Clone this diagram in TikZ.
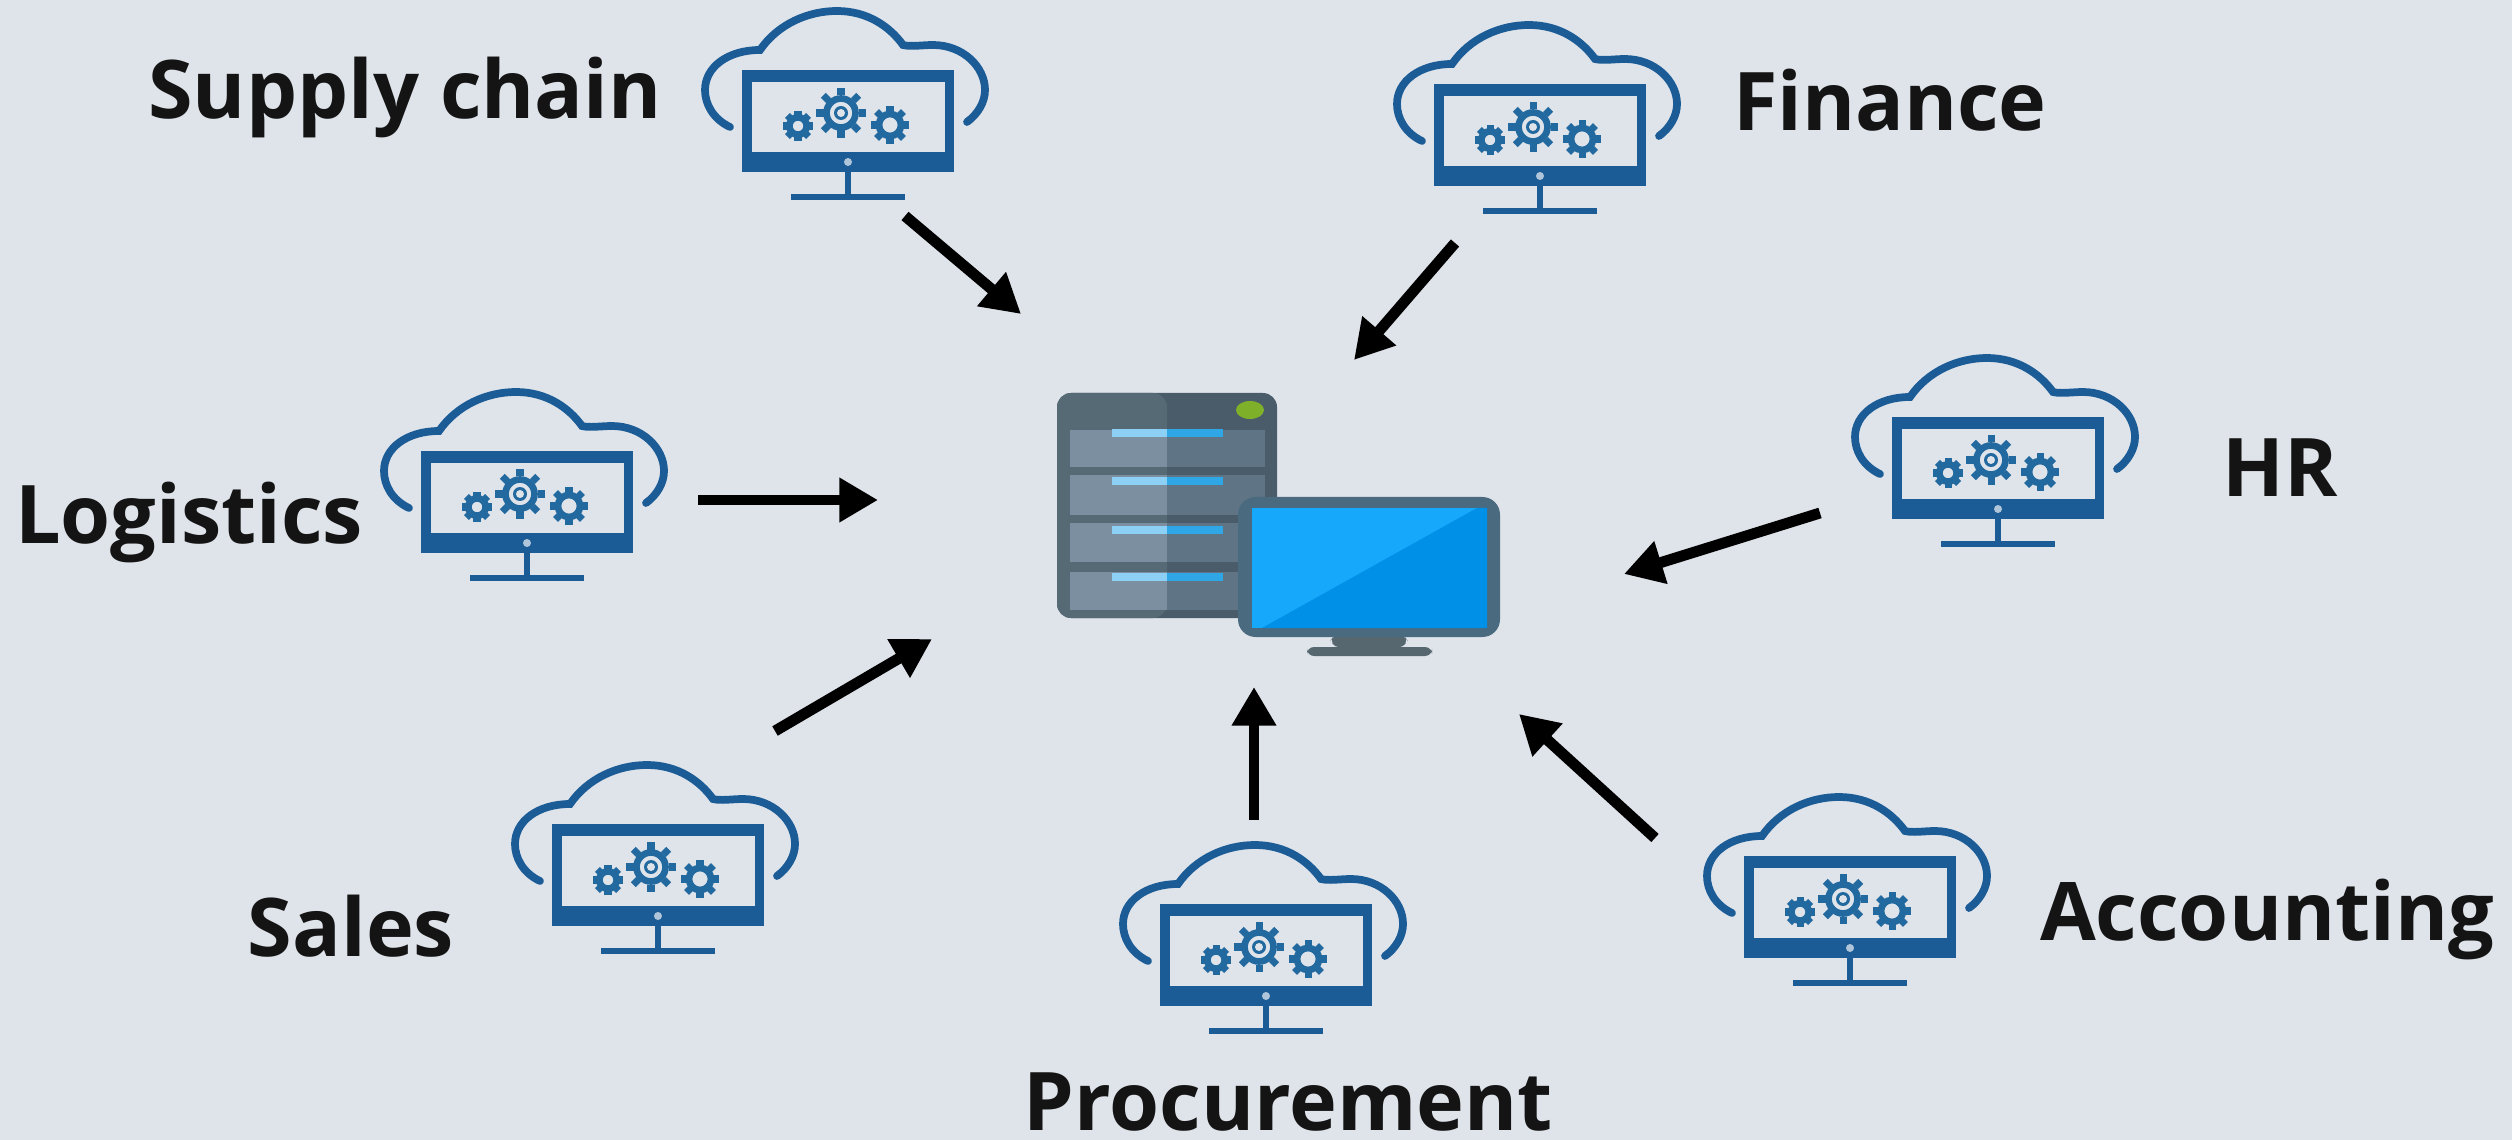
\documentclass[tikz,border=0pt]{standalone}
\usepackage{fontspec}
\setmainfont{Open Sans}
\usetikzlibrary{arrows.meta}

\definecolor{paneback}{HTML}{DFE3EA}
\definecolor{iconblue}{HTML}{1B5C96}
\definecolor{gearblue}{HTML}{22699F}
\definecolor{standgrey}{HTML}{56676F}
\definecolor{rackdark}{HTML}{566A76}
\definecolor{rackdeep}{HTML}{4A5C69}
\definecolor{drawerleft}{HTML}{7C8FA0}
\definecolor{drawerright}{HTML}{5F7484}
\definecolor{barleft}{HTML}{8CD0F6}
\definecolor{barright}{HTML}{2FA6E6}
\definecolor{screenframe}{HTML}{4A6A80}
\definecolor{screenlight}{HTML}{16A8FA}
\definecolor{screendark}{HTML}{0090E8}
\definecolor{ledgreen}{HTML}{7FB02A}

\tikzset{
    caption/.style={anchor=base,font=\fontsize{23}{27}\selectfont\bfseries,text=black!92,inner sep=0pt},
    flow/.style={line width=3.1pt,black,-{Triangle[length=11pt,width=12pt]}},
    gearwheel/.pic={
        \draw[gearblue,line width=1.9pt] (0,0) circle[radius=#1*0.58];
        \foreach \a in {0,45,...,315}
            \draw[gearblue,line width=2pt] (\a:#1*0.7) -- (\a:#1);
    },
    cloudpc/.pic={
        % Cloud
        \draw[iconblue,line width=2.2pt,line cap=round] (-118,-45)
            .. controls (-135,-53) and (-143,-68) .. (-143,-82)
            .. controls (-143,-105) and (-120,-122) .. (-88,-122)
            .. controls (-70,-148) and (-40,-161) .. (-11,-161)
            .. controls (20,-161) and (42,-145) .. (55,-127)
            .. controls (62,-125) and (75,-127) .. (85,-127)
            .. controls (115,-127) and (137,-105) .. (137,-82)
            .. controls (137,-70) and (130,-58) .. (119,-50);
        % Monitor
        \fill[iconblue] (-106,0) rectangle (106,-102);
        \fill[paneback] (-96,-20) rectangle (97,-90);
        \fill[iconblue!35!white] (0,-10) circle[radius=4];
        \draw[iconblue,line width=1.8pt] (0,0) -- (0,25);
        \draw[iconblue,line width=1.8pt] (-57,25) -- (57,25);
        % Gears
        \pic at (-50,-46) {gearwheel=15};
        \pic at (-7,-59) {gearwheel=25};
        \fill[gearblue] (-7,-59) circle[radius=7];
        \fill[paneback] (-7,-59) circle[radius=4];
        \pic at (42,-47) {gearwheel=19};
    },
}

\begin{document}
\begin{tikzpicture}[x=0.01cm,y=-0.01cm]
    \useasboundingbox (0,0) rectangle (2512,1140);
    \fill[paneback] (0,0) rectangle (2512,1140);

    % Server rack
    \fill[rounded corners=4pt,rackdeep] (1057,393) rectangle (1277,618);
    \fill[rounded corners=4pt,rackdark] (1057,393) rectangle (1167,618);
    \foreach \top/\bot in {430/467,475/515,523/562,572/610}{
        \fill[drawerleft] (1070,\top) rectangle (1167,\bot);
        \fill[drawerright] (1167,\top) rectangle (1265,\bot);
    }
    \foreach \bar in {433,481,530,577}{
        \fill[barleft] (1112,\bar-4) rectangle (1167,\bar+4);
        \fill[barright] (1167,\bar-4) rectangle (1223,\bar+4);
    }
    \fill[ledgreen] (1250,410) ellipse[x radius=14,y radius=9];

    % Screen in front
    \fill[rounded corners=4pt,standgrey] (1338,630) -- (1400,630) -- (1412,647) -- (1326,647) -- cycle;
    \fill[rounded corners=2pt,standgrey] (1307,647) rectangle (1432,656);
    \fill[rounded corners=5pt,screenframe] (1238,497) rectangle (1500,637);
    \fill[screenlight] (1252,508) rectangle (1487,628);
    \fill[screendark] (1262,628) -- (1477,508) -- (1487,508) -- (1487,628) -- cycle;

    % Cloud machines
    \pic (supplyicon) at (848,172) {cloudpc};
    \pic (financeicon) at (1540,186) {cloudpc};
    \pic (hricon) at (1998,519) {cloudpc};
    \pic (logisticsicon) at (527,553) {cloudpc};
    \pic (salesicon) at (658,926) {cloudpc};
    \pic (procurementicon) at (1266,1006) {cloudpc};
    \pic (accountingicon) at (1850,958) {cloudpc};

    % Labels
    \node[caption] (supply) at (405,119) {Supply chain};
    \node[caption] (finance) at (1890,131) {Finance};
    \node[caption] (hr) at (2280,497) {HR};
    \node[caption] (logistics) at (189,543) {Logistics};
    \node[caption] (sales) at (351,956) {Sales};
    \node[caption] (procurement) at (1288,1130) {Procurement};
    \node[caption] (accounting) at (2267,940) {Accounting};

    % Arrows
    \coordinate (supplyfrom) at (905,216);
    \coordinate (supplyto) at (1021,314);
    \coordinate (financefrom) at (1455,243);
    \coordinate (financeto) at (1354,360);
    \coordinate (hrfrom) at (1820,513);
    \coordinate (hrto) at (1624,574);
    \coordinate (logisticsfrom) at (698,500);
    \coordinate (logisticsto) at (878,500);
    \coordinate (salesfrom) at (775,731);
    \coordinate (salesto) at (932,639);
    \coordinate (procurementfrom) at (1254,820);
    \coordinate (procurementto) at (1254,687);
    \coordinate (accountingfrom) at (1655,838);
    \coordinate (accountingto) at (1519,714);
    \foreach \src in {supply,finance,hr,logistics,sales,procurement,accounting}
        \draw[flow] (\src from) -- (\src to);
\end{tikzpicture}
\end{document}
